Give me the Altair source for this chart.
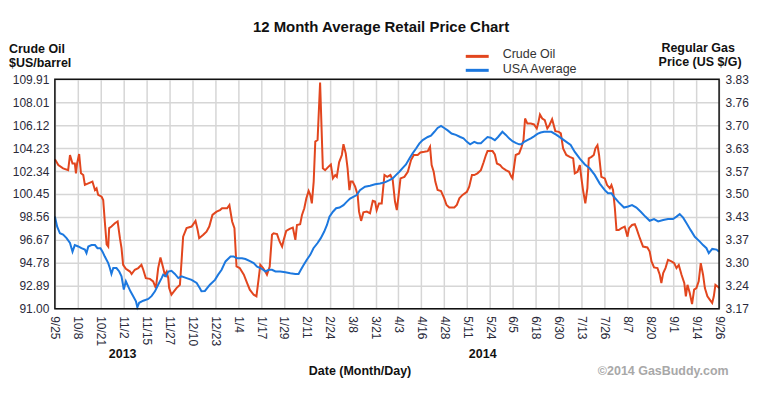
import json
import altair as alt
import pandas as pd

# ---------------- data ----------------
date_labels = ["9/25", "10/8", "10/21", "11/2", "11/15", "11/27", "12/10", "12/23",
               "1/4", "1/17", "1/29", "2/11", "2/24", "3/8", "3/21", "4/3", "4/16",
               "4/28", "5/11", "5/24", "6/5", "6/18", "6/30", "7/13", "7/26", "8/7",
               "8/20", "9/1", "9/14", "9/26"]
oil_tick_labels = ["91.00", "92.89", "94.78", "96.67", "98.56", "100.45", "102.34",
                   "104.23", "106.12", "108.01", "109.91"]
gas_tick_labels = ["3.17", "3.24", "3.30", "3.37", "3.43", "3.50", "3.57", "3.63",
                   "3.70", "3.76", "3.83"]
year_labels = ["2013", "2014"]

# (position along the date axis in label steps, $US/barrel)
crude_oil = [
    (0, 103.33), (0.15, 102.84), (0.36, 102.57), (0.58, 102.42), (0.66, 103.67), (0.77, 102.97),
    (0.87, 102.97), (0.92, 102.16), (0.97, 102.97), (1.06, 103.75), (1.14, 102.16), (1.24, 102.02),
    (1.31, 101.21), (1.46, 101.33), (1.64, 101.48), (1.75, 100.78), (1.82, 100.93), (1.89, 100.38),
    (2.04, 100.23), (2.11, 99.96), (2.18, 98.19), (2.26, 96.30), (2.33, 96.12), (2.37, 97.64),
    (2.47, 97.77), (2.62, 98.04), (2.74, 98.19), (2.84, 96.81), (2.91, 95.99), (2.98, 94.61),
    (3.1, 94.29), (3.28, 94.06), (3.35, 93.86), (3.49, 94.21), (3.64, 94.35), (3.78, 94.61),
    (3.86, 94.21), (3.97, 93.52), (4.15, 93.46), (4.29, 93.25), (4.41, 92.70), (4.51, 94.35),
    (4.61, 95.22), (4.73, 94.35), (4.8, 93.80), (4.88, 94.06), (4.95, 93.52), (4.99, 92.70),
    (5.09, 92.15), (5.2, 92.42), (5.31, 92.70), (5.46, 92.97), (5.53, 94.90), (5.6, 96.94),
    (5.75, 97.64), (5.97, 97.77), (6.14, 98.24), (6.23, 97.52), (6.3, 96.81), (6.48, 97.09),
    (6.62, 97.35), (6.74, 97.77), (6.88, 98.73), (7.06, 99.00), (7.21, 99.13), (7.3, 99.28),
    (7.52, 99.28), (7.62, 99.55), (7.74, 98.19), (7.84, 97.64), (7.93, 94.48), (8.07, 94.35),
    (8.25, 93.80), (8.39, 93.12), (8.51, 92.57), (8.68, 92.15), (8.8, 92.02), (8.9, 93.52),
    (8.97, 94.61), (9.09, 94.35), (9.19, 94.06), (9.26, 93.80), (9.38, 94.48), (9.48, 97.09),
    (9.55, 97.22), (9.7, 97.15), (9.81, 96.54), (9.92, 96.12), (9.99, 96.67), (10.1, 97.41),
    (10.25, 97.58), (10.39, 97.69), (10.5, 96.67), (10.57, 97.90), (10.71, 97.96), (10.79, 98.73),
    (10.89, 99.28), (10.98, 100.10), (11.08, 100.70), (11.15, 100.38), (11.22, 99.68), (11.3, 101.48),
    (11.37, 104.77), (11.47, 104.90), (11.58, 109.65), (11.7, 102.57), (11.8, 102.42), (11.95, 102.71),
    (12.05, 102.89), (12.14, 101.74), (12.24, 102.02), (12.31, 101.87), (12.41, 103.07), (12.53, 103.67),
    (12.6, 104.56), (12.7, 103.80), (12.78, 102.57), (12.86, 100.78), (12.92, 101.48), (13.0, 101.48),
    (13.11, 101.06), (13.22, 100.38), (13.28, 99.00), (13.37, 98.24), (13.47, 98.94), (13.62, 99.00),
    (13.76, 98.87), (13.88, 99.89), (13.98, 99.83), (14.05, 99.13), (14.15, 99.68), (14.27, 99.68),
    (14.39, 102.02), (14.51, 101.87), (14.65, 102.02), (14.75, 101.61), (14.85, 99.83), (14.93, 99.13),
    (15.01, 100.38), (15.09, 101.74), (15.26, 101.87), (15.41, 102.29), (15.55, 103.25), (15.67, 103.67),
    (15.84, 103.67), (15.96, 103.88), (16.13, 103.93), (16.28, 103.99), (16.38, 104.35), (16.45, 102.84),
    (16.54, 102.29), (16.61, 101.48), (16.71, 100.78), (16.86, 100.70), (17.0, 100.10), (17.1, 99.55),
    (17.22, 99.34), (17.44, 99.34), (17.55, 99.55), (17.66, 100.10), (17.8, 100.38), (17.99, 100.64),
    (18.09, 101.06), (18.21, 102.02), (18.31, 102.02), (18.45, 102.16), (18.6, 102.42), (18.72, 103.07),
    (18.82, 103.67), (18.89, 103.99), (19.11, 103.99), (19.21, 103.71), (19.3, 102.97), (19.44, 102.84),
    (19.54, 102.61), (19.69, 102.42), (19.83, 102.29), (19.93, 101.87), (19.98, 101.74), (20.05, 102.71),
    (20.12, 103.67), (20.27, 103.80), (20.38, 104.35), (20.46, 104.90), (20.53, 106.68), (20.63, 106.26),
    (20.78, 106.26), (20.92, 106.19), (21.04, 105.86), (21.1, 106.26), (21.18, 107.00), (21.28, 106.68),
    (21.39, 106.54), (21.5, 105.86), (21.59, 106.13), (21.71, 106.62), (21.85, 105.64), (22.0, 105.58),
    (22.09, 105.45), (22.19, 104.22), (22.33, 103.67), (22.48, 103.52), (22.63, 103.39), (22.7, 102.16),
    (22.82, 102.29), (22.92, 102.84), (22.99, 101.74), (23.06, 100.78), (23.16, 99.68), (23.25, 100.93),
    (23.31, 103.39), (23.43, 103.52), (23.53, 103.67), (23.6, 104.22), (23.69, 104.48), (23.76, 103.67),
    (23.86, 101.87), (24.01, 101.74), (24.11, 101.19), (24.23, 100.93), (24.3, 101.19), (24.37, 100.78),
    (24.45, 99.28), (24.52, 97.49), (24.62, 97.49), (24.74, 97.64), (24.88, 97.77), (25.0, 96.94),
    (25.07, 97.64), (25.2, 97.90), (25.32, 97.96), (25.39, 97.64), (25.54, 96.81), (25.68, 96.12),
    (25.87, 96.05), (25.97, 95.71), (26.05, 94.90), (26.16, 94.40), (26.31, 94.35), (26.41, 93.80),
    (26.48, 93.12), (26.56, 93.93), (26.66, 94.35), (26.77, 95.03), (26.92, 94.90), (27.04, 94.76),
    (27.14, 94.35), (27.24, 94.61), (27.36, 93.80), (27.48, 93.12), (27.55, 92.02), (27.62, 92.97),
    (27.72, 92.29), (27.82, 91.38), (27.91, 92.57), (28.01, 92.70), (28.11, 93.25), (28.2, 94.76),
    (28.3, 93.80), (28.38, 92.70), (28.49, 92.02), (28.6, 91.73), (28.7, 91.47), (28.77, 92.02),
    (28.84, 92.97), (28.93, 92.84), (29.0, 92.70),
]

# (position along the date axis in label steps, US $/G)
usa_average = [
    (0, 3.435), (0.1, 3.406), (0.22, 3.387), (0.36, 3.383), (0.51, 3.373), (0.66, 3.359),
    (0.77, 3.334), (0.87, 3.353), (1.02, 3.349), (1.16, 3.344), (1.31, 3.340), (1.38, 3.330),
    (1.46, 3.349), (1.6, 3.353), (1.75, 3.353), (1.86, 3.344), (1.99, 3.344), (2.08, 3.334),
    (2.18, 3.320), (2.33, 3.301), (2.4, 3.287), (2.47, 3.270), (2.55, 3.287), (2.69, 3.287),
    (2.81, 3.277), (2.91, 3.263), (3.01, 3.225), (3.1, 3.249), (3.2, 3.234), (3.3, 3.220),
    (3.42, 3.206), (3.54, 3.191), (3.6, 3.174), (3.68, 3.187), (3.86, 3.193), (4.08, 3.198),
    (4.22, 3.206), (4.37, 3.220), (4.51, 3.239), (4.66, 3.258), (4.73, 3.268), (4.85, 3.263),
    (4.95, 3.277), (5.09, 3.279), (5.24, 3.270), (5.39, 3.258), (5.53, 3.263), (5.75, 3.258),
    (5.97, 3.253), (6.19, 3.244), (6.33, 3.229), (6.4, 3.220), (6.55, 3.221), (6.77, 3.239),
    (6.99, 3.253), (7.13, 3.268), (7.28, 3.282), (7.45, 3.306), (7.67, 3.320), (7.81, 3.320),
    (7.96, 3.315), (8.17, 3.315), (8.32, 3.313), (8.54, 3.306), (8.68, 3.301), (8.83, 3.291),
    (8.97, 3.287), (9.09, 3.282), (9.19, 3.277), (9.34, 3.282), (9.48, 3.282), (9.63, 3.277),
    (9.84, 3.277), (10.06, 3.275), (10.28, 3.272), (10.5, 3.270), (10.64, 3.270), (10.74, 3.282),
    (10.86, 3.296), (11.0, 3.311), (11.15, 3.325), (11.29, 3.344), (11.47, 3.359), (11.61, 3.373),
    (11.76, 3.392), (11.88, 3.411), (11.99, 3.435), (12.14, 3.449), (12.28, 3.459), (12.43, 3.461),
    (12.6, 3.468), (12.75, 3.478), (12.89, 3.487), (13.03, 3.492), (13.18, 3.497), (13.32, 3.511),
    (13.54, 3.521), (13.76, 3.524), (13.98, 3.528), (14.2, 3.530), (14.43, 3.534), (14.61, 3.540),
    (14.75, 3.545), (14.9, 3.555), (15.04, 3.564), (15.19, 3.575), (15.33, 3.585), (15.48, 3.602),
    (15.62, 3.617), (15.77, 3.631), (15.91, 3.645), (16.06, 3.655), (16.28, 3.664), (16.42, 3.668),
    (16.57, 3.679), (16.71, 3.690), (16.86, 3.696), (17.0, 3.690), (17.15, 3.683), (17.32, 3.674),
    (17.51, 3.670), (17.7, 3.664), (17.84, 3.660), (17.99, 3.650), (18.13, 3.643), (18.31, 3.650),
    (18.45, 3.646), (18.6, 3.646), (18.74, 3.655), (18.89, 3.664), (19.03, 3.662), (19.21, 3.655),
    (19.35, 3.664), (19.54, 3.679), (19.69, 3.670), (19.83, 3.660), (19.98, 3.652), (20.12, 3.647),
    (20.27, 3.643), (20.37, 3.643), (20.49, 3.650), (20.63, 3.655), (20.78, 3.660), (20.92, 3.666),
    (21.07, 3.673), (21.21, 3.677), (21.36, 3.679), (21.5, 3.679), (21.68, 3.679), (21.9, 3.670),
    (22.12, 3.660), (22.33, 3.650), (22.52, 3.641), (22.7, 3.621), (22.92, 3.602), (23.14, 3.585),
    (23.35, 3.574), (23.57, 3.555), (23.79, 3.530), (24.01, 3.511), (24.15, 3.502), (24.3, 3.502),
    (24.45, 3.489), (24.62, 3.476), (24.85, 3.461), (25.03, 3.464), (25.2, 3.468), (25.39, 3.461),
    (25.58, 3.449), (25.78, 3.435), (25.97, 3.423), (26.16, 3.428), (26.34, 3.421), (26.56, 3.425),
    (26.77, 3.428), (26.99, 3.428), (27.14, 3.435), (27.28, 3.442), (27.43, 3.432), (27.58, 3.416),
    (27.76, 3.396), (27.94, 3.377), (28.16, 3.363), (28.3, 3.353), (28.45, 3.344), (28.55, 3.330),
    (28.7, 3.342), (28.89, 3.340), (29.0, 3.334),
]

oil_df = pd.DataFrame(crude_oil, columns=["idx", "price"])
gas_df = pd.DataFrame(usa_average, columns=["idx", "gas"])

# ---------------- styling ----------------
W, H = 666, 230
FONT = "Liberation Sans"
RED = "#e2461e"
BLUE = "#1c78df"
GRID = "#d6d6d6"
LABEL = "#2a2a3a"

oil_lo, oil_hi = 91.0, 109.91
gas_lo, gas_hi = 3.17, 3.83
oil_step = (oil_hi - oil_lo) / 10
gas_step = (gas_hi - gas_lo) / 10
oil_ticks = [oil_lo + oil_step * k for k in range(11)]
gas_ticks = [gas_lo + gas_step * k for k in range(11)]

x_enc = alt.X(
    "idx:Q",
    scale=alt.Scale(domain=[0, len(date_labels) - 1], nice=False, zero=False),
    axis=alt.Axis(
        values=list(range(len(date_labels))),
        labelExpr=f"{json.dumps(date_labels)}[round(datum.value)]",
        labelAngle=90, labelAlign="left", labelBaseline="middle",
        labelPadding=7, ticks=False, domain=False, grid=True,
        gridColor=GRID, gridWidth=1.5, title=None,
        labelFontSize=12, labelColor=LABEL, labelFont=FONT, labelOverlap=False,
    ),
)

oil_line = alt.Chart(oil_df).mark_line(color=RED, strokeWidth=2).encode(
    x=x_enc,
    y=alt.Y(
        "price:Q",
        scale=alt.Scale(domain=[oil_lo, oil_hi], nice=False, zero=False),
        axis=alt.Axis(
            orient="left", values=oil_ticks,
            labelExpr=f"{json.dumps(oil_tick_labels)}[round((datum.value - {oil_lo}) / {oil_step})]",
            ticks=False, domain=False, grid=True, gridColor=GRID, gridWidth=1.5,
            title=None, labelPadding=6, labelFontSize=12, labelColor=LABEL,
            labelFont=FONT, labelOverlap=False,
        ),
    ),
)

gas_line = alt.Chart(gas_df).mark_line(color=BLUE, strokeWidth=2).encode(
    x=x_enc,
    y=alt.Y(
        "gas:Q",
        scale=alt.Scale(domain=[gas_lo, gas_hi], nice=False, zero=False),
        axis=alt.Axis(
            orient="right", values=gas_ticks,
            labelExpr=f"{json.dumps(gas_tick_labels)}[round((datum.value - {gas_lo}) / {gas_step})]",
            ticks=False, domain=False, grid=False,
            title=None, labelPadding=6, labelFontSize=12, labelColor=LABEL,
            labelFont=FONT, labelOverlap=False,
        ),
    ),
)

one = pd.DataFrame({"k": [0]})


def txt(s, x, y, size=12.5, bold=True, align="left", color="#111", baseline="alphabetic"):
    return alt.Chart(one).mark_text(
        text=s, font=FONT, fontSize=size, fontWeight="bold" if bold else "normal",
        align=align, baseline=baseline, color=color,
    ).encode(x=alt.value(x), y=alt.value(y))


def swatch(color, y):
    return alt.Chart(one).mark_rule(color=color, strokeWidth=3).encode(
        x=alt.value(412), x2=alt.value(435), y=alt.value(y)
    )


border = alt.Chart(one).mark_rect(filled=False, stroke="#111", strokeWidth=1.5).encode(
    x=alt.value(0), x2=alt.value(W), y=alt.value(0), y2=alt.value(H)
)

texts = [
    txt("12 Month Average Retail Price Chart", 327, -47, size=15, align="center"),
    txt("Crude Oil", -46, -26.5),
    txt("$US/barrel", -46, -12.5),
    txt("Regular Gas", 645, -27, align="center"),
    txt("Price (US $/G)", 647, -13.5, align="center"),
    txt("Crude Oil", 449, -25, bold=False, baseline="middle", color="#333"),
    txt("USA Average", 449, -10.5, bold=False, baseline="middle", color="#333"),
    txt(year_labels[0], 68, 279, align="center"),
    txt(year_labels[1], 429, 279, align="center"),
    txt("Date (Month/Day)", 306, 296, align="center"),
    txt("\u00a92014 GasBuddy.com", 610, 296, align="center", color="#a8a8a8"),
]

chart = alt.layer(
    oil_line, gas_line, border, swatch(RED, -23), swatch(BLUE, -9), *texts
).resolve_scale(y="independent").properties(
    width=W, height=H,
    autosize=alt.AutoSizeParams(type="none"),
    padding={"left": 47, "top": 71, "right": 30, "bottom": 70},
).configure_view(strokeWidth=0)

chart.save("out.html", embed_options={"renderer": "svg", "actions": False})
